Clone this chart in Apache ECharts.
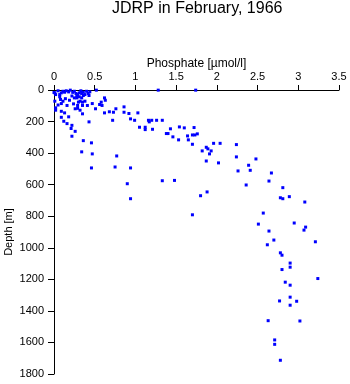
<!DOCTYPE html>
<html><head><meta charset="utf-8">
<script src="https://cdn.jsdelivr.net/npm/echarts@6/dist/echarts.min.js"></script>
<style>html,body{margin:0;padding:0;background:#fff}#c{width:350px;height:384px}</style>
</head><body><div id="c"></div>
<script>
// Phosphate [µmol/l]
const phosphate = [
0.00,0.01,0.02,0.07,0.09,0.11,0.13,0.20,0.25,0.27,0.29,0.31,0.34,0.36,0.38,0.40,0.42,0.43,0.25,0.28,
0.31,0.34,0.36,0.32,0.30,0.35,0.38,0.07,0.08,0.11,0.09,0.01,0.02,0.02,0.62,0.63,0.58,0.56,0.59,0.47,
0.41,0.35,0.29,0.29,0.16,0.51,0.26,0.32,0.09,0.13,0.35,0.18,0.09,0.62,0.68,0.73,0.76,0.86,0.86,0.92,
1.03,0.12,0.16,0.43,0.72,0.94,0.99,1.16,1.20,1.26,1.33,1.17,1.05,1.12,1.12,1.21,0.22,0.21,0.26,0.22,
0.36,0.46,0.34,0.47,0.77,0.46,0.75,0.94,0.90,1.33,0.94,1.28,1.74,0.52,
0.05,0.15,0.18,0.23,0.33,0.44,0.22,0.28,0.14,0.19,0.24,0.05,
1.43,1.38,1.40,1.46,1.53,1.54,1.60,1.72,1.64,1.70,1.73,1.76,1.65,1.70,1.96,2.04,2.24,1.87,1.89,1.82,
1.93,1.91,1.87,2.02,2.24,2.39,2.41,2.48,2.26,2.67,1.48,2.36,2.64,2.81,1.80,1.88,2.78,2.81,2.89,3.08,
1.70,2.57,2.51,2.95,3.09,3.07,2.64,2.70,3.21,2.62,2.78,2.80,
2.90,2.90,2.80,3.24,2.84,2.90,2.90,2.77,2.98,2.90,2.63,3.02,2.71,2.71,2.78
];
// Depth [m]
const depth = [
16,18,29,29,18,8,14,1,8,22,29,18,22,14,29,8,22,35,50,50,
43,50,35,71,77,77,71,43,60,71,86,71,113,128,50,65,77,92,98,86,
98,98,98,116,98,119,119,128,135,145,151,170,173,145,138,141,119,107,141,149,
145,198,213,202,192,183,192,192,192,192,192,202,236,236,251,249,224,244,262,293,
321,335,392,405,418,494,488,494,594,575,689,1,1,1,
5,5,12,15,5,12,38,38,55,65,88,95,
246,276,276,297,316,234,240,238,291,285,285,278,316,344,338,338,346,363,373,386,
386,405,450,462,424,477,509,437,513,526,573,602,577,619,670,646,683,689,676,710,
791,780,850,843,869,888,894,951,962,981,1032,1047,
1097,1123,1138,1195,1218,1237,1313,1337,1339,1364,1462,1464,1584,1612,1713
];
const xTickValues = [0, 0.5, 1, 1.5, 2, 2.5, 3, 3.5];
const yTickValues = [0, 200, 400, 600, 800, 1000, 1200, 1400, 1600, 1800];

const FONT = '"Liberation Sans", Arial, Helvetica, sans-serif';
const chart = echarts.init(document.getElementById('c'), null, {renderer: 'canvas'});
chart.setOption({
  animation: false,
  backgroundColor: '#fff',
  title: {
    text: 'JDRP in February, 1966',
    left: 112, top: 1, padding: 0,
    textStyle: {fontFamily: FONT, fontSize: 16, fontWeight: 'normal', color: '#000'}
  },
  grid: {left: 54, top: 90, width: 285, height: 284, containLabel: false, outerBoundsMode: 'none'},
  xAxis: {
    type: 'value', position: 'top',
    min: xTickValues[0], max: xTickValues[xTickValues.length - 1],
    interval: xTickValues[1] - xTickValues[0],
    name: 'Phosphate [µmol/l]', nameLocation: 'middle', nameGap: 20, nameMoveOverlap: false,
    nameTextStyle: {fontFamily: FONT, fontSize: 12, color: '#000'},
    axisLine: {show: true, onZero: false, lineStyle: {color: '#000', width: 1}},
    axisTick: {show: true, inside: false, length: 5, lineStyle: {color: '#000', width: 1}},
    axisLabel: {fontFamily: FONT, fontSize: 11, color: '#000', margin: 8, formatter: v => String(v)},
    splitLine: {show: false}
  },
  yAxis: {
    type: 'value', inverse: true,
    min: yTickValues[0], max: yTickValues[yTickValues.length - 1],
    interval: yTickValues[1] - yTickValues[0],
    name: 'Depth [m]', nameLocation: 'middle', nameGap: 40, nameRotate: 90, nameMoveOverlap: false,
    nameTextStyle: {fontFamily: FONT, fontSize: 11, color: '#000'},
    axisLine: {show: true, onZero: false, lineStyle: {color: '#000', width: 1}},
    axisTick: {show: true, inside: false, length: 6, lineStyle: {color: '#000', width: 1}},
    axisLabel: {fontFamily: FONT, fontSize: 11, color: '#000', margin: 10, formatter: v => String(v)},
    splitLine: {show: false}
  },
  series: [{
    type: 'scatter',
    symbol: 'rect',
    symbolSize: 3,
    itemStyle: {color: '#0000ff', opacity: 1},
    data: phosphate.map((p, i) => [p, depth[i]])
  }]
});
</script>
</body></html>
